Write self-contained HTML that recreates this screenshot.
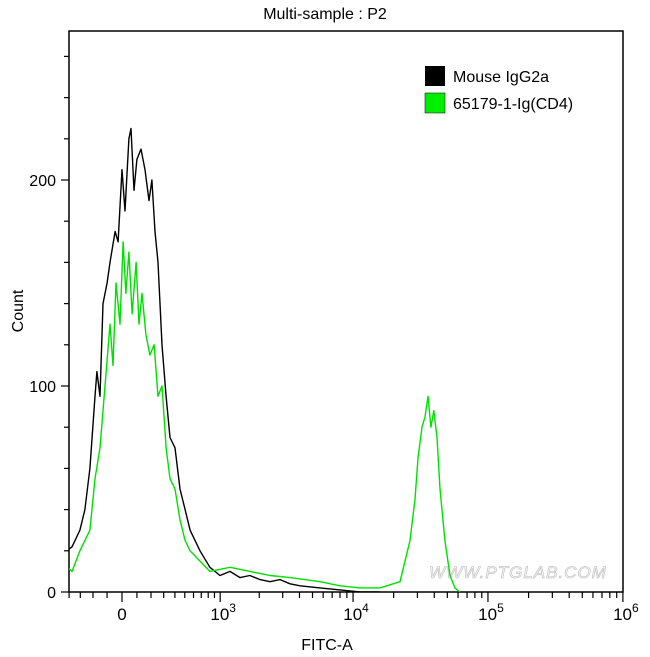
<!DOCTYPE html>
<html><head><meta charset="utf-8"><style>
html,body{margin:0;padding:0;background:#fff;}
svg{display:block;font-family:"Liberation Sans",sans-serif;}
</style></head><body>
<svg id="chart" width="650" height="657">
<text x="325" y="19" font-size="16" text-anchor="middle">Multi-sample : P2</text>
<text transform="translate(23,311) rotate(-90)" font-size="16" text-anchor="middle">Count</text>
<text x="327" y="650" font-size="16" text-anchor="middle">FITC-A</text>
<text x="518" y="578" font-size="17" font-style="italic" fill="none" stroke="#c8c8c8" stroke-width="0.8" text-anchor="middle" letter-spacing="1">WWW.PTGLAB.COM</text>
<g id="axes"></g>
<g id="series"></g>
<g>
<rect x="425" y="66" width="20" height="20" fill="#000"/>
<text x="453" y="82" font-size="16">Mouse IgG2a</text>
<rect x="425" y="93" width="20" height="20" fill="#00ee00" stroke="#000" stroke-width="0.5"/>
<text x="453" y="109" font-size="16">65179-1-Ig(CD4)</text>
</g>
</svg>
<script>
const yTicks=[0,100,200];
const blackX=[-420,-372,-303,-262,-223,-185,-171,-149,-128,-100,-80,-46,-26,0,20,46,60,80,100,128,156,185,207,230,254,286,320,355,401,450,503,560,683,826,997,1195,1428,1700,2025,2410,2864,3402,4043,5693,8005,11250,15830];
const blackY=[20,22,30,40,60,95,107,95,140,150,160,175,170,205,185,220,225,195,210,215,205,190,200,175,160,120,95,75,70,50,40,30,20,12,8,10,7,8,6,5,6,4,3,2,1,0,0];
const greenX=[-420,-372,-303,-223,-185,-149,-114,-80,-60,-40,-13,7,26,46,67,94,114,135,163,192,223,254,286,320,355,401,450,503,560,683,826,1195,1700,2410,3402,5693,8005,11250,15830,22270,24280,26440,28790,30300,32470,34150,35920,37760,39700,41900,44100,47960,52300,56900,62000];
const greenY=[12,10,20,30,55,70,100,130,110,150,130,170,145,165,135,160,130,145,125,115,120,95,100,70,55,50,35,25,20,15,10,12,10,8,7,5,3,2,2,5,15,25,45,65,80,85,95,80,88,75,50,25,8,2,0];
const L=69,R=623,T=31,B=592;
function xs(v){return 122+58.6*Math.asinh(v/388);}
function ys(c){return B-c*2.06;}
const NS='http://www.w3.org/2000/svg';
function mk(tag,attrs,parent){const e=document.createElementNS(NS,tag);for(const k in attrs)e.setAttribute(k,attrs[k]);parent.appendChild(e);return e;}
const ax=document.getElementById('axes');
const frame=mk('rect',{x:L,y:T,width:R-L,height:B-T,fill:'none',stroke:'#000','stroke-width':1.5},ax);


for(let c=0;c<=260;c+=20){const y=ys(c);const major=yTicks.includes(c);
const t=mk('line',{x1:L-(major?8:5),x2:L,y1:y,y2:y,stroke:'#000','stroke-width':1.2},ax);

}
yTicks.forEach(c=>{const t=mk('text',{x:56,y:ys(c)+6,'font-size':16,'text-anchor':'end'},ax);t.textContent=c;

});
const minor=[-400,-300,-200,-100,100,200,300,400,500,600,700,800,900];
for(let d=1e3;d<1e6;d*=10)for(let m=2;m<=9;m++)minor.push(m*d);
minor.forEach(v=>{const x=xs(v);const t=mk('line',{x1:x,x2:x,y1:B,y2:B+6,stroke:'#000','stroke-width':1.2},ax);

});
const majors=[[0,'0',''],[1e3,'10','3'],[1e4,'10','4'],[1e5,'10','5'],[1e6,'10','6']];
majors.forEach(m=>{const x=xs(m[0]);const t=mk('line',{x1:x,x2:x,y1:B,y2:B+10,stroke:'#000','stroke-width':1.2},ax);


const tx=mk('text',{x:x+(m[2]?3:0),y:B+28,'font-size':17,'text-anchor':'middle'},ax);
tx.textContent=m[1];
if(m[2]){const s=mk('tspan',{'font-size':12,dy:-8},tx);s.textContent=m[2];}

});
const sg=document.getElementById('series');
function line(X,Y,color,name){const pts=X.map((v,i)=>xs(v).toFixed(1)+','+ys(Y[i]).toFixed(1)).join(' ');
const p=mk('polyline',{points:pts,fill:'none',stroke:color,'stroke-width':1.4,'stroke-linejoin':'round'},sg);

}
const cp=mk('clipPath',{id:'clip'},sg);mk('rect',{x:L,y:T,width:R-L,height:B-T},cp);
sg.setAttribute('clip-path','url(#clip)');
line(blackX,blackY,'#000','series-mouse-igg2a');
line(greenX,greenY,'#00e000','series-cd4');
</script>
</body></html>
